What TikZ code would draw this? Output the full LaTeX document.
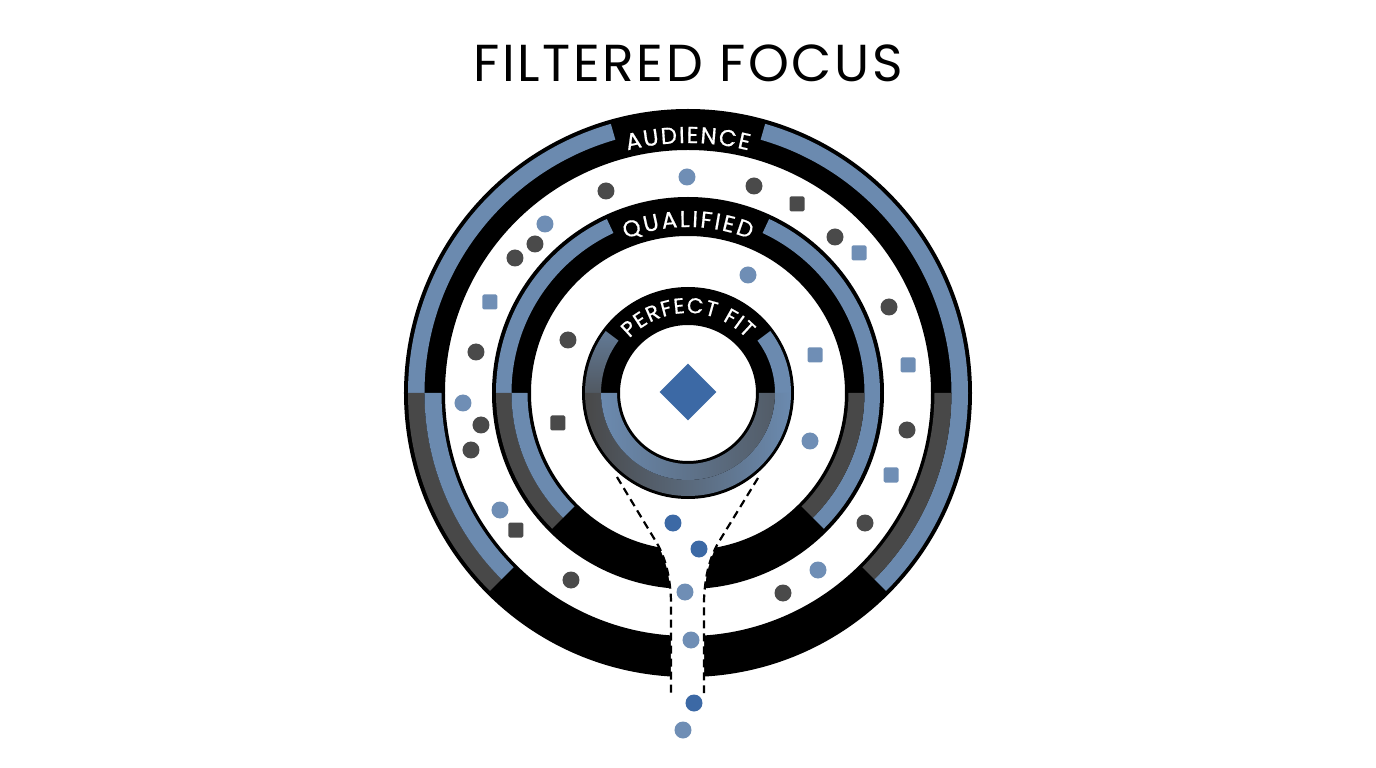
\documentclass[tikz,border=0pt]{standalone}
\usepackage{fontspec}
\setmainfont{Poppins}
\newfontfamily\labelfont{Poppins}[FakeBold=0.6]
\newfontfamily\titlefont{Poppins}[LetterSpace=5]
\usetikzlibrary{shapes.geometric,decorations.text}
\definecolor{bandblue}{HTML}{6B8AAF}
\definecolor{bandgray}{HTML}{484848}
\definecolor{dotgray}{HTML}{4A4A4A}
\definecolor{dotblue}{HTML}{6F8EB5}
\definecolor{deepblue}{HTML}{3C69A5}
\tikzset{
  darkdot/.style={circle,fill=dotgray,inner sep=0pt,minimum size=17pt},
  bluedot/.style={darkdot,fill=dotblue},
  deepdot/.style={darkdot,fill=deepblue},
  darksq/.style={rectangle,fill=dotgray,inner sep=0pt,minimum size=15pt,rounded corners=1.5pt},
  bluesq/.style={darksq,fill=dotblue},
  funneledge/.style={line width=2.2pt,dash pattern=on 8pt off 5pt},
  ringlabel/.style={decorate,decoration={text along path,text color=white,text align=fit to path,text={#1}}}
}
% annular sector: options, start, end, inner radius, outer radius
\newcommand{\ringband}[5]{\path[#1] (#2:#4) arc[start angle=#2,end angle=#3,radius=#4] -- (#3:#5) arc[start angle=#3,end angle=#2,radius=#5] -- cycle;}

\begin{document}
\begin{tikzpicture}[x=1pt,y=1pt]
  \path[use as bounding box,fill=white] (-688,-375) rectangle (688,393);

  % outer and middle rings
  \foreach \ri/\ro/\gap in {243/284/16,157/196/25}{
    \pgfmathsetmacro{\rmid}{(\ri+\ro)/2}
    \pgfmathsetmacro{\rin}{\ri+3.5}
    \pgfmathsetmacro{\rout}{\ro-4}
    \pgfmathsetmacro{\ga}{90-\gap}
    \pgfmathsetmacro{\gb}{90+\gap}
    \fill[black,even odd rule] (0,0) circle[radius=\ro] (0,0) circle[radius=\ri];
    \ringband{fill=bandblue}{0}{\ga}{\rmid}{\rout}
    \ringband{fill=bandblue}{\gb}{180}{\rmid}{\rout}
    \ringband{fill=bandgray}{180}{225}{\rmid}{\rout}
    \ringband{fill=bandblue}{180}{225}{\rin}{\rmid}
    \ringband{fill=bandblue}{315}{360}{\rmid}{\rout}
    \ringband{fill=bandgray}{315}{360}{\rin}{\rmid}
  }

  % funnel opening
  \coordinate (fl1) at (-71,-84);
  \coordinate (fl2) at (-33,-147);
  \coordinate (fl3) at (-17,-207);
  \coordinate (fl4) at (-17,-300);
  \coordinate (fr1) at (70,-85);
  \coordinate (fr2) at (32,-147);
  \coordinate (fr3) at (16,-207);
  \coordinate (fr4) at (16,-300);
  \fill[white] (fl1) -- (fl2) .. controls (-23,-163) and (-18,-182) .. (fl3) -- (fl4)
    -- (fr4) -- (fr3) .. controls (17,-182) and (22,-163) .. (fr2) -- (fr1) -- cycle;

  % inner ring
  \fill[black,even odd rule] (0,0) circle[radius=106] (0,0) circle[radius=68];
  \ringband{fill=bandblue}{0}{37}{87}{103}
  \ringband{top color=bandblue!75!bandgray,bottom color=bandgray!75!bandblue}{143}{180}{87}{103}
  \ringband{left color=bandgray,right color=bandblue}{180}{360}{87}{103}
  \ringband{left color=bandblue,right color=bandgray!70!bandblue}{180}{360}{71}{87}

  \draw[funneledge] (fl1) -- (fl2) .. controls (-23,-163) and (-18,-182) .. (fl3) -- (fl4);
  \draw[funneledge] (fr1) -- (fr2) .. controls (22,-163) and (17,-182) .. (fr3) -- (fr4);

  % ring labels
  \path[ringlabel={|\labelfont\fontsize{23}{24}\selectfont|AUDIENCE}]
    (104:250) arc[start angle=104,end angle=76,radius=250];
  \path[ringlabel={|\labelfont\fontsize{23}{24}\selectfont|QUALIFIED}]
    (112:166) arc[start angle=112,end angle=68,radius=166];
  \path[ringlabel={|\labelfont\fontsize{21.5}{22}\selectfont|PERFECT FIT}]
    (137:80) arc[start angle=137,end angle=43,radius=80];

  % particles
  \foreach \x/\y [count=\i] in {-82/202,66/207,-153/149,-173/135,147/156,201/86,-212/41,
      -207/-32,-217/-57,219/-37,177/-130,-117/-187,95/-200,-120/53}
    \node[darkdot] (dark\i) at (\x,\y) {};
  \foreach \x/\y [count=\i] in {109/189,-172/-137,-130/-30}
    \node[darksq] (darksq\i) at (\x,\y) {};
  \foreach \x/\y [count=\i] in {-1/216,-143/169,-225/-10,-188/-117,130/-177,60/118,122/-48}
    \node[bluedot] (blue\i) at (\x,\y) {};
  \foreach \x/\y [count=\i] in {171/140,-198/91,220/28,203/-82,127/38}
    \node[bluesq] (bluesq\i) at (\x,\y) {};
  \foreach \x/\y [count=\i] in {-15/-130,11/-156,6/-310}
    \node[deepdot] (pass\i) at (\x,\y) {};
  \foreach \x/\y [count=\i] in {-3/-199,3/-247,-5/-337}
    \node[bluedot] (drop\i) at (\x,\y) {};

  \node[diamond,aspect=1,fill=deepblue,inner sep=0pt,minimum size=57pt] (core) at (0,1) {};

  \node[font=\titlefont\fontsize{52}{60}\selectfont,anchor=base] (title) at (0,311) {FILTERED FOCUS};
\end{tikzpicture}
\end{document}
